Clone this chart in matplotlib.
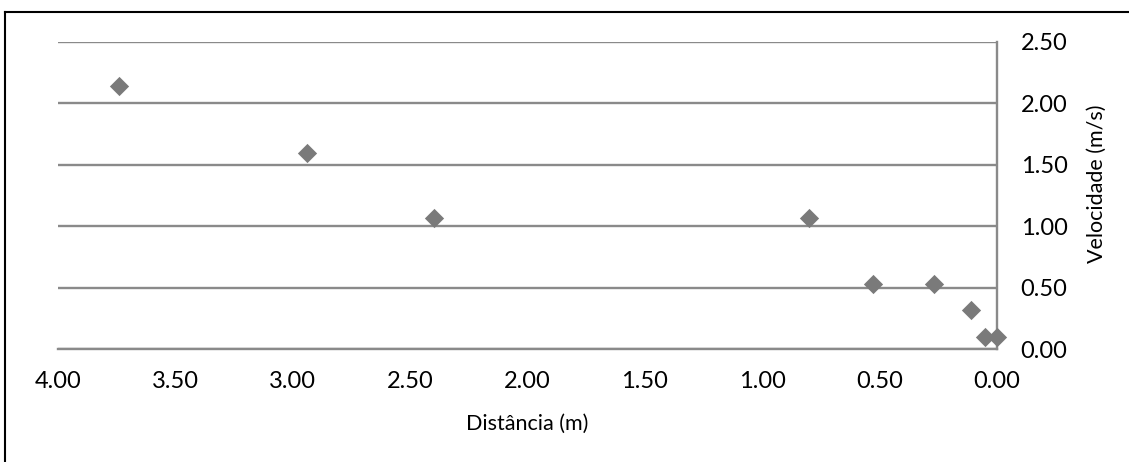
import matplotlib.pyplot as plt
from matplotlib.lines import Line2D

# distance (m) and velocity (m/s)
distancia = [3.74, 2.94, 2.40, 0.80, 0.53, 0.27, 0.11, 0.05, 0.00]
velocidade = [2.14, 1.60, 1.07, 1.07, 0.53, 0.53, 0.32, 0.10, 0.10]

x_ticks = [4.0, 3.5, 3.0, 2.5, 2.0, 1.5, 1.0, 0.5, 0.0]
y_ticks = [0.0, 0.5, 1.0, 1.5, 2.0, 2.5]

W, H = 1129, 462
plt.rcParams['font.family'] = ['Lato', 'DejaVu Sans']

fig = plt.figure(figsize=(W / 100, H / 100), dpi=100)
ax = fig.add_axes([58 / W, 1 - 349 / H, (997 - 58) / W, (349 - 42) / H])

grid_color = '#8a8a8a'
ax.scatter(distancia, velocidade, marker='D', s=9.8 ** 2, color='#7a7a7a',
           linewidths=0, zorder=3, clip_on=False)

ax.set_xlim(4.0, 0.0)
ax.set_ylim(0.0, 2.5)
ax.set_xticks(x_ticks)
ax.set_yticks(y_ticks)
ax.set_xticklabels([f'{v:.2f}' for v in x_ticks])
ax.set_yticklabels([f'{v:.2f}' for v in y_ticks])
ax.yaxis.tick_right()
ax.tick_params(axis='x', length=0, pad=16, labelsize=17, colors='black')
ax.tick_params(axis='y', length=0, pad=17, labelsize=17, colors='black')
ax.grid(axis='y', color=grid_color, linewidth=1.7)
ax.set_axisbelow(True)

for side in ['left', 'top']:
    ax.spines[side].set_visible(False)
for side in ['right', 'bottom']:
    ax.spines[side].set_color(grid_color)
    ax.spines[side].set_linewidth(1.7)

fig.text(527.5 / W, 1 - 424 / H, 'Distância (m)', ha='center', va='center', fontsize=15.5)
fig.text(1097 / W, 1 - 183.5 / H, 'Velocidade (m/s)', ha='center', va='center',
         rotation=90, fontsize=15.5)

# outer frame (only top and left edges show in the crop)
fig.add_artist(Line2D([5 / W, 1], [1 - 12 / H, 1 - 12 / H], color='black', linewidth=1.5,
                      transform=fig.transFigure))
fig.add_artist(Line2D([5 / W, 5 / W], [0, 1 - 12 / H], color='black', linewidth=1.5,
                      transform=fig.transFigure))

fig.savefig('out.png', dpi=100)
